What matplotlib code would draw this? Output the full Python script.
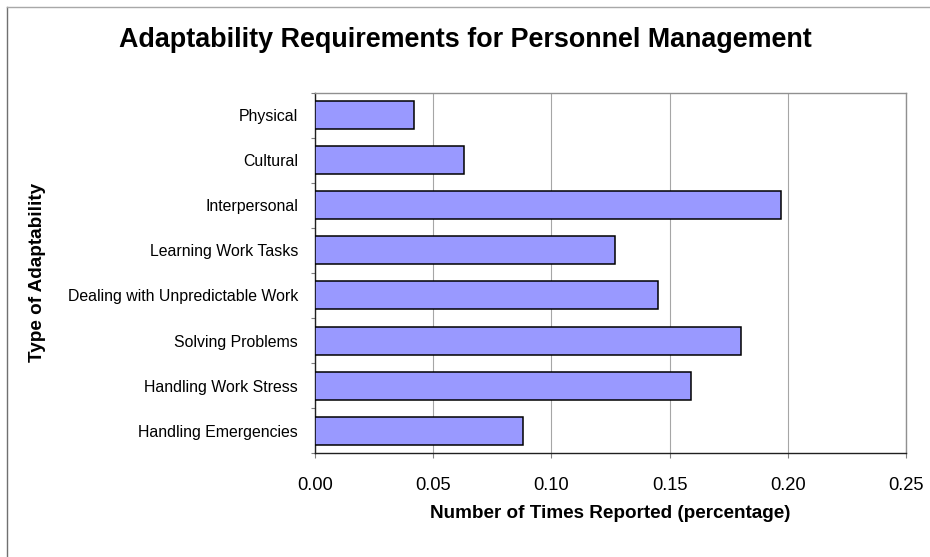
import matplotlib
matplotlib.use('Agg')
import matplotlib.pyplot as plt
from matplotlib.lines import Line2D
import numpy as np

# values (share of reports per adaptability type)
categories = ['Physical', 'Cultural', 'Interpersonal', 'Learning Work Tasks',
              'Dealing with Unpredictable Work', 'Solving Problems',
              'Handling Work Stress', 'Handling Emergencies']
reported   = [0.042, 0.063, 0.197, 0.127, 0.145, 0.180, 0.159, 0.088]
xticks     = [0.00, 0.05, 0.10, 0.15, 0.20, 0.25]

titleText  = 'Adaptability Requirements for Personnel Management'
xLabelText = 'Number of Times Reported (percentage)'
yLabelText = 'Type of Adaptability'

plt.rcParams['font.family'] = ['Liberation Sans', 'DejaVu Sans']

W, H = 930, 557
fig = plt.figure(figsize=(W/100, H/100), dpi=100)

# plot area in pixels
left, right, top, bottom = 315, 906, 92.5, 453.3
ax = fig.add_axes([left/W, 1 - bottom/H, (right-left)/W, (bottom-top)/H])

pos = np.arange(len(categories))
ax.barh(pos, reported, height=0.62, color='#9999FF', edgecolor='black',
        linewidth=1.1, zorder=3)

ax.set_xlim(0, 0.25)
ax.set_ylim(len(categories) - 0.5, -0.5)

ax.set_xticks(xticks)
ax.set_xticklabels(['%.2f' % t for t in xticks], fontsize=13.2)
ax.set_yticks(pos)
ax.set_yticklabels(categories, fontsize=11.4)
ax.set_yticks(np.arange(len(categories) + 1) - 0.5, minor=True)

ax.tick_params(axis='y', which='major', length=0, pad=12.2)
ax.tick_params(axis='y', which='minor', length=3, width=0.8, color='#808080', direction='out')
ax.tick_params(axis='x', which='major', length=3.5, width=0.8, color='#808080',
               direction='out', pad=13.8)

ax.grid(axis='x', color='#a6a6a6', linewidth=0.8, zorder=0)
ax.set_axisbelow(True)

for side in ['top', 'right']:
    ax.spines[side].set_color('#909090')
    ax.spines[side].set_linewidth(1.0)
for side in ['left', 'bottom']:
    ax.spines[side].set_color('#202020')
    ax.spines[side].set_linewidth(1.0)

ax.set_xlabel(xLabelText, fontsize=13.6, fontweight='bold', va='center')
ax.xaxis.set_label_coords(0.5, -(513 - bottom)/(bottom - top))
ax.set_ylabel(yLabelText, fontsize=13.6, fontweight='bold', va='center', ha='center')
ax.yaxis.set_label_coords(-(left - 38)/(right - left), 0.5)

fig.text(0.5, 1 - 40/H, titleText, fontsize=19.4, fontweight='bold',
         ha='center', va='center')

# chart frame, only top and left edges fall inside the image
fig.add_artist(Line2D([6.5/W, 6.5/W], [0, 1 - 7/H], transform=fig.transFigure,
                      color='#707070', linewidth=1.0))
fig.add_artist(Line2D([6.5/W, 1], [1 - 7/H, 1 - 7/H], transform=fig.transFigure,
                      color='#a8a8a8', linewidth=1.0))

fig.savefig('out.png', dpi=100)
